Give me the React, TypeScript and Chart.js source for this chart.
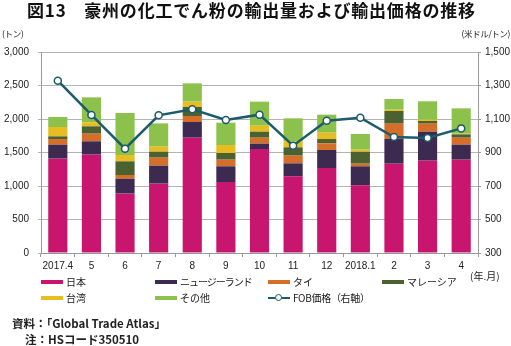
import React, { useEffect, useRef } from "react";
import { Chart, registerables } from "chart.js";

Chart.register(...registerables);

const categories = ["2017.4", "5", "6", "7", "8", "9", "10", "11", "12", "2018.1", "2", "3", "4"];
const japan = [1408, 1468, 886, 1035, 1721, 1060, 1552, 1144, 1269, 1010, 1333, 1378, 1393];
const newZealand = [209, 199, 223, 268, 234, 234, 80, 194, 268, 284, 373, 433, 224];
const thailand = [84, 114, 55, 120, 90, 99, 89, 115, 100, 39, 224, 119, 104];
const malaysia = [40, 110, 204, 89, 134, 100, 90, 124, 64, 179, 189, 40, 50];
const taiwan = [140, 59, 95, 75, 80, 119, 89, 90, 95, 30, 20, 20, 10];
const others = [149, 373, 627, 348, 273, 333, 359, 343, 269, 234, 159, 274, 378];
const fobPrice = [1329, 1124, 923, 1122, 1158, 1094, 1126, 941, 1090, 1108, 992, 987, 1044];

const leftTicks = [0, 500, 1000, 1500, 2000, 2500, 3000];
const rightTicks = [300, 500, 700, 900, 1100, 1300, 1500];

const C = {
  japan: "#c8166e",
  nz: "#3c2a51",
  thai: "#d46e28",
  malaysia: "#4b6230",
  taiwan: "#e8bd22",
  other: "#8cc14b",
  line: "#1c5b6b",
};

const FONT = "'Liberation Sans', Arial, 'Noto Sans CJK JP', sans-serif";
const JFONT = "'Noto Sans CJK JP', 'Liberation Sans', sans-serif";

export default function App() {
  const ref = useRef<HTMLCanvasElement>(null);

  useEffect(() => {
    if (!ref.current) return;
    const bar = (label: string, data: number[], color: string) => ({
      type: "bar" as const,
      label,
      data,
      backgroundColor: color,
      borderWidth: 0,
      yAxisID: "y",
      stack: "s",
      order: 1,
      barPercentage: 0.57,
      categoryPercentage: 1,
    });
    const chart = new Chart(ref.current, {
      type: "bar",
      data: {
        labels: categories,
        datasets: [
          {
            type: "line" as const,
            label: "FOB価格（右軸）",
            data: fobPrice,
            borderColor: C.line,
            borderWidth: 2.5,
            pointRadius: 3.5,
            pointBackgroundColor: "#ffffff",
            pointBorderColor: C.line,
            pointBorderWidth: 1.5,
            yAxisID: "y2",
            order: 0,
          } as any,
          bar("日本", japan, C.japan),
          bar("ニュージーランド", newZealand, C.nz),
          bar("タイ", thailand, C.thai),
          bar("マレーシア", malaysia, C.malaysia),
          bar("台湾", taiwan, C.taiwan),
          bar("その他", others, C.other),
        ],
      },
      options: {
        responsive: false,
        animation: false,
        layout: { padding: { top: 52, bottom: 73, left: 0, right: 0 } },
        plugins: { legend: { display: false }, tooltip: { enabled: false }, title: { display: false } },
        scales: {
          x: {
            stacked: true,
            offset: true,
            grid: { offset: true, drawOnChartArea: false, drawTicks: true, tickLength: 4, color: "#999999" },
            border: { display: true, color: "#999999", width: 1 },
            ticks: { color: "#222222", font: { family: FONT, size: 10 }, padding: 3, maxRotation: 0, autoSkip: false },
            afterFit: (s: any) => { s.height = 20; },
          },
          y: {
            type: "linear",
            position: "left",
            stacked: true,
            min: 0,
            max: 3000,
            afterBuildTicks: (s: any) => { s.ticks = leftTicks.map((v) => ({ value: v })); },
            grid: { color: "#b4b4b4", lineWidth: 1, tickLength: 3, drawTicks: true },
            border: { display: true, color: "#999999", width: 1 },
            ticks: {
              color: "#222222",
              font: { family: FONT, size: 10 },
              padding: 9,
              callback: (v: any) => Number(v).toLocaleString("en-US"),
            },
            afterFit: (s: any) => { s.width = 41; },
          },
          y2: {
            type: "linear",
            position: "right",
            min: 300,
            max: 1500,
            afterBuildTicks: (s: any) => { s.ticks = rightTicks.map((v) => ({ value: v })); },
            grid: { drawOnChartArea: false, tickLength: 3, color: "#999999" },
            border: { display: true, color: "#999999", width: 1 },
            ticks: {
              color: "#222222",
              font: { family: FONT, size: 10 },
              padding: 4,
              callback: (v: any) => Number(v).toLocaleString("en-US"),
            },
            afterFit: (s: any) => { s.width = 33; },
          },
        },
      },
    });
    return () => chart.destroy();
  }, []);

  const txt = (style: React.CSSProperties, content: React.ReactNode) => (
    <div style={{ position: "absolute", whiteSpace: "nowrap", lineHeight: 1, color: "#222", fontFamily: JFONT, ...style }}>
      {content}
    </div>
  );

  const swatch = (left: number, top: number, color: string) => (
    <div style={{ position: "absolute", left, top, width: 22, height: 4, background: color }} />
  );

  return (
    <div style={{ position: "fixed", left: 0, top: 0, width: 511, height: 346, background: "#fff", overflow: "hidden" }}>
      <canvas ref={ref} width={511} height={346} style={{ position: "absolute", left: 0, top: 0 }} />
      {txt({ left: 27, top: 1, fontSize: 17, fontWeight: 700, letterSpacing: 0.8, color: "#111" }, "図13　豪州の化工でん粉の輸出量および輸出価格の推移")}
      {txt({ left: 2, top: 29, fontSize: 8.5, letterSpacing: -0.3 }, "(トン)")}
      {txt({ right: 1, top: 29, fontSize: 8.5, letterSpacing: -0.4 }, "(米ドル/トン)")}
      {txt({ left: 470, top: 271, fontSize: 10 }, "(年.月)")}

      {swatch(41, 280, C.japan)}
      {txt({ left: 66, top: 277, fontSize: 10 }, "日本")}
      {swatch(155, 280, C.nz)}
      {txt({ left: 180, top: 277, fontSize: 10, letterSpacing: -1 }, "ニュージーランド")}
      {swatch(268, 280, C.thai)}
      {txt({ left: 293, top: 277, fontSize: 10 }, "タイ")}
      {swatch(382, 280, C.malaysia)}
      {txt({ left: 407, top: 277, fontSize: 10 }, "マレーシア")}

      {swatch(41, 296, C.taiwan)}
      {txt({ left: 66, top: 293, fontSize: 10 }, "台湾")}
      {swatch(155, 296, C.other)}
      {txt({ left: 180, top: 293, fontSize: 10 }, "その他")}
      <div style={{ position: "absolute", left: 268, top: 296.5, width: 22, height: 2.5, background: C.line }} />
      <div style={{ position: "absolute", left: 275, top: 294, width: 5, height: 5, borderRadius: "50%", background: "#fff", border: `1.5px solid ${C.line}` }} />
      {txt({ left: 293, top: 293, fontSize: 10, letterSpacing: -0.3 }, "FOB価格（右軸）")}

      {txt({ left: 12, top: 318, fontSize: 11.5, fontWeight: 700 }, "資料：「Global Trade Atlas」")}
      {txt({ left: 25, top: 334, fontSize: 11.5, fontWeight: 700 }, "注：HSコード350510")}
    </div>
  );
}
